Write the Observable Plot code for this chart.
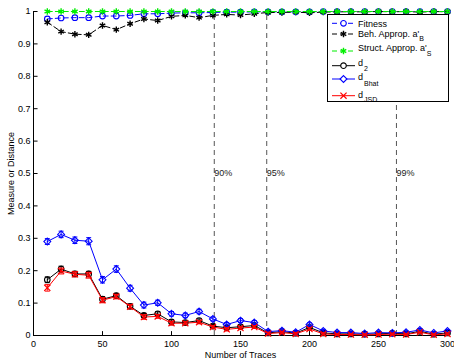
<!DOCTYPE html>
<html>
<head>
<meta charset="utf-8">
<script src="https://cdn.jsdelivr.net/npm/d3@7"></script>
<script src="https://cdn.jsdelivr.net/npm/@observablehq/plot@0.6"></script>
<style>
  html, body { margin: 0; padding: 0; background: #fff; }
  #wrap { position: relative; width: 454px; height: 359px; }
  #legend { position: absolute; left: 327px; top: 14px; }
</style>
</head>
<body>
<div id="wrap"></div>
<script>
const xs = [10,20,30,40,50,60,70,80,90,100,110,120,130,140,150,160,170,180,190,200,210,220,230,240,250,260,270,280,290,300];

const fitness = [0.977,0.980,0.981,0.981,0.986,0.986,0.988,0.993,0.993,0.995,0.996,0.996,0.997,0.998,0.998,0.999,0.999,0.999,0.999,0.999,1.0,1.0,1.0,1.0,1.0,1.0,1.0,1.0,1.0,1.0];
const behApprop = [0.967,0.938,0.930,0.928,0.957,0.944,0.962,0.977,0.972,0.985,0.988,0.981,0.988,0.991,0.989,0.993,0.997,0.997,0.998,0.996,0.998,0.999,0.999,0.999,1.0,0.999,1.0,0.998,1.0,0.999];
const structApprop = [1.0,1.0,1.0,1.0,1.0,1.0,1.0,1.0,1.0,1.0,1.0,1.0,1.0,1.0,1.0,1.0,1.0,1.0,1.0,1.0,1.0,1.0,1.0,1.0,1.0,1.0,1.0,1.0,1.0,1.0];
const d2 = [0.172,0.205,0.190,0.190,0.112,0.123,0.090,0.062,0.067,0.042,0.040,0.046,0.029,0.024,0.027,0.031,0.008,0.012,0.007,0.025,0.008,0.005,0.005,0.004,0.005,0.007,0.005,0.013,0.004,0.008];
const dBhat = [0.290,0.312,0.294,0.291,0.172,0.205,0.146,0.094,0.101,0.067,0.062,0.074,0.051,0.034,0.046,0.040,0.012,0.015,0.010,0.034,0.014,0.009,0.009,0.006,0.009,0.008,0.010,0.017,0.008,0.014];
const dJSD = [0.147,0.199,0.189,0.186,0.109,0.120,0.089,0.057,0.059,0.038,0.038,0.041,0.026,0.019,0.023,0.026,0.006,0.009,0.005,0.020,0.005,0.003,0.003,0.002,0.003,0.004,0.003,0.010,0.002,0.005];

const errD2 = [0.009,0.009,0.008,0.008,0.008,0.007,0.007,0.006,0.006,0.006,0.005,0.005,0.005,0.005,0.005,0.004,0.004,0.004,0.004,0.004,0.004,0.003,0.003,0.003,0.003,0.003,0.003,0.003,0.003,0.003];
const errBhat = [0.009,0.010,0.010,0.011,0.010,0.010,0.009,0.009,0.008,0.007,0.007,0.007,0.006,0.006,0.006,0.006,0.005,0.005,0.005,0.005,0.005,0.004,0.004,0.004,0.004,0.004,0.004,0.004,0.004,0.004];
const errJSD = [0.010,0.009,0.008,0.009,0.008,0.007,0.007,0.007,0.006,0.006,0.005,0.005,0.005,0.005,0.005,0.004,0.004,0.004,0.004,0.004,0.004,0.003,0.003,0.003,0.003,0.003,0.003,0.003,0.003,0.003];

const thresholds = [131, 169, 263];
const thresholdLabels = ["90%", "95%", "99%"];

const xTicks = [0,50,100,150,200,250,300];
const yTicks = [0,0.1,0.2,0.3,0.4,0.5,0.6,0.7,0.8,0.9,1];

const fam = "'Liberation Sans', Arial, Helvetica, sans-serif";

const series = [
  {name: "Fitness", sub: "", vals: fitness, color: "#0000ff", dash: "5,3", symbol: "circle", err: null},
  {name: "Beh. Approp. a'", sub: "B", vals: behApprop, color: "#000000", dash: "5,3", symbol: "asterisk", err: null},
  {name: "Struct. Approp. a'", sub: "S", vals: structApprop, color: "#00ee00", dash: "5,3", symbol: "asterisk", err: null},
  {name: "d", sub: "2", vals: d2, color: "#000000", dash: null, symbol: "circle", err: errD2},
  {name: "d", sub: "Bhat", vals: dBhat, color: "#0000ff", dash: null, symbol: "diamond2", err: errBhat},
  {name: "d", sub: "JSD", vals: dJSD, color: "#ff0000", dash: null, symbol: "times", err: errJSD}
];
const symR = {circle: 2.8, asterisk: 3.0, diamond2: 3.1, times: 2.9};
const symW = {circle: 1.1, asterisk: 1.4, diamond2: 1.1, times: 1.2};

const marks = [];
marks.push(Plot.ruleX(thresholds, {y1: 0, y2: 1, stroke: "#555", strokeDasharray: "5,4", strokeWidth: 1}));
marks.push(Plot.text(thresholds, {x: d => d, y: 0.5, text: (d, i) => thresholdLabels[i], textAnchor: "start", fontSize: 9, fill: "#222"}));
marks.push(Plot.ruleY([0], {x1: 0, x2: 300, stroke: "#000"}));
marks.push(Plot.ruleX([0], {y1: 0, y2: 1, stroke: "#000"}));
marks.push(Plot.ruleX(xTicks, {y1: 0, y2: 0.012, stroke: "#000"}));
marks.push(Plot.ruleY(yTicks, {x1: 0, x2: 3.3, stroke: "#000"}));

for (const s of series) {
  const v = s.vals;
  if (s.err) {
    const e = s.err;
    marks.push(Plot.ruleX(xs, {x: d => d, y1: (d, i) => v[i] - e[i], y2: (d, i) => v[i] + e[i], stroke: s.color, strokeWidth: 1}));
    marks.push(Plot.link(xs, {x1: d => d - 1.8, x2: d => d + 1.8, y1: (d, i) => v[i] + e[i], y2: (d, i) => v[i] + e[i], stroke: s.color, strokeWidth: 1}));
    marks.push(Plot.link(xs, {x1: d => d - 1.8, x2: d => d + 1.8, y1: (d, i) => v[i] - e[i], y2: (d, i) => v[i] - e[i], stroke: s.color, strokeWidth: 1}));
  }
  marks.push(Plot.line(xs, {x: d => d, y: (d, i) => v[i], stroke: s.color, strokeWidth: 1, strokeDasharray: s.dash || undefined}));
  marks.push(Plot.dot(xs, {x: d => d, y: (d, i) => v[i], stroke: s.color, fill: "none", symbol: s.symbol, r: symR[s.symbol], strokeWidth: symW[s.symbol]}));
}

marks.push(Plot.axisX(xTicks, {tickSize: 0, tickPadding: 5, fontSize: 9, label: "Number of Traces", labelAnchor: "center", labelArrow: "none", labelOffset: 22}));
marks.push(Plot.axisY(yTicks, {tickSize: 0, tickPadding: 3, fontSize: 9, tickFormat: d => String(d), label: "Measure or Distance", labelAnchor: "center", labelArrow: "none", labelOffset: 26}));

const chart = Plot.plot({
  width: 454,
  height: 359,
  marginLeft: 33,
  marginRight: 7,
  marginTop: 11,
  marginBottom: 24,
  style: {fontFamily: fam, fontSize: "9px", color: "#000", background: "#fff", overflow: "visible"},
  x: {domain: [0, 300]},
  y: {domain: [0, 1]},
  marks
});

const wrap = document.getElementById("wrap");
wrap.appendChild(chart);

// legend
const W = 122, H = 88;
const rowY = [9.3, 20, 37, 51.7, 65, 81.7];
const textY = [12.5, 22.5, 37.2, 51.5, 66, 84];
const subDy = [0, 4, 5, 5, 6, 4];
const leg = d3.create("svg").attr("id", "legend").attr("width", W).attr("height", H)
  .style("font-family", fam).style("font-size", "9px");
leg.append("rect").attr("x", 0.5).attr("y", 0.5).attr("width", W - 1).attr("height", H - 1)
  .attr("fill", "#fff").attr("stroke", "#000").attr("stroke-width", 1);
const symbolMap = {circle: d3.symbolCircle, asterisk: d3.symbolAsterisk, diamond2: d3.symbolDiamond2, times: d3.symbolTimes};
series.forEach((s, i) => {
  const y = rowY[i];
  leg.append("line").attr("x1", 5).attr("x2", 28).attr("y1", y).attr("y2", y)
    .attr("stroke", s.color).attr("stroke-width", 1).attr("stroke-dasharray", s.dash || null);
  const r = symR[s.symbol];
  leg.append("path").attr("d", d3.symbol(symbolMap[s.symbol], Math.PI * r * r)())
    .attr("transform", `translate(16.5,${y})`).attr("fill", "#fff").attr("stroke", s.color)
    .attr("stroke-width", symW[s.symbol]);
  const t = leg.append("text").attr("x", 31).attr("y", textY[i]).attr("fill", "#000");
  t.append("tspan").text(s.name);
  if (s.sub) {
    t.append("tspan").attr("dx", s.name === "d" ? 1 : 0).attr("dy", subDy[i]).attr("font-size", "7px").text(s.sub);
  }
});
wrap.appendChild(leg.node());
</script>
</body>
</html>
